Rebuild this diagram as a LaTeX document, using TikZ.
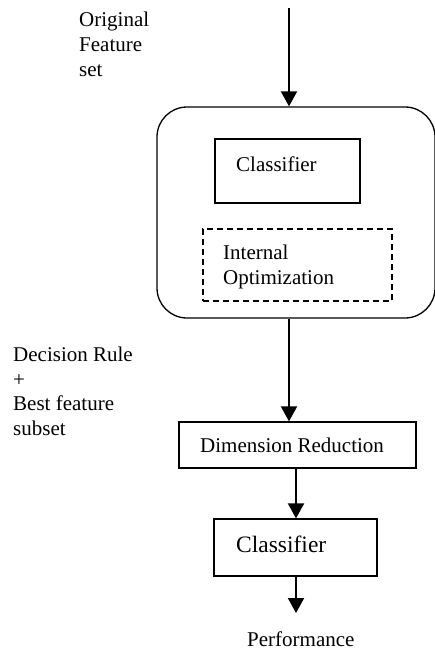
\documentclass[tikz,border=0pt]{standalone}
\usepackage{fontspec}
\setmainfont{Liberation Serif}
\usetikzlibrary{arrows.meta}
\begin{document}
\begin{tikzpicture}[x=1pt,y=-1pt,
		box/.style={draw,line width=1.3pt,inner sep=0pt},
		flow/.style={line width=2pt,-{Triangle[width=16pt,length=15pt]}},
		txt/.style={inner sep=0pt,align=left,anchor=base west,font=\fontsize{21}{25}\selectfont}]
		\useasboundingbox (0,0) rectangle (435,650);
		\coordinate (in) at (289,8);
		\node[box,rounded corners=30pt,minimum width=278pt,minimum height=211pt] (wrap) at (296,212.5) {};
		\node[box,minimum width=145pt,minimum height=64pt] (clf) at (287.5,171) {};
		\node[box,dashed,dash pattern=on 6pt off 4pt,minimum width=189pt,minimum height=72pt] (opt) at (297.5,265) {};
		\node[box,minimum width=237pt,minimum height=46pt] (dimred) at (297.5,445) {};
		\node[box,minimum width=163pt,minimum height=57pt] (clftwo) at (295.5,547.5) {};
		\coordinate (out) at (296,613);
		\node[txt] (featlbl) at (79,77) {Original\\Feature\\set};
		\node[txt] (clflbl) at (236,171) {Classifier};
		\node[txt] (optlbl) at (223,284) {Internal\\Optimization};
		\node[txt,font=\fontsize{21}{24.5}\selectfont] (rulelbl) at (13,435) {Decision Rule\\+\\Best feature\\subset};
		\node[txt] (dimlbl) at (200,452) {Dimension Reduction};
		\node[txt,font=\fontsize{23.5}{28}\selectfont] (clftwolbl) at (236,552) {Classifier};
		\node[txt] (perflbl) at (247,646) {Performance};
		\draw[flow] (in) -- (in |- wrap.north);
		\draw[flow] (wrap.south -| in) -- (dimred.north -| in);
		\draw[flow] (dimred.south -| out) -- (clftwo.north -| out);
		\draw[flow] (clftwo.south -| out) -- (out);
	\end{tikzpicture}
\end{document}
